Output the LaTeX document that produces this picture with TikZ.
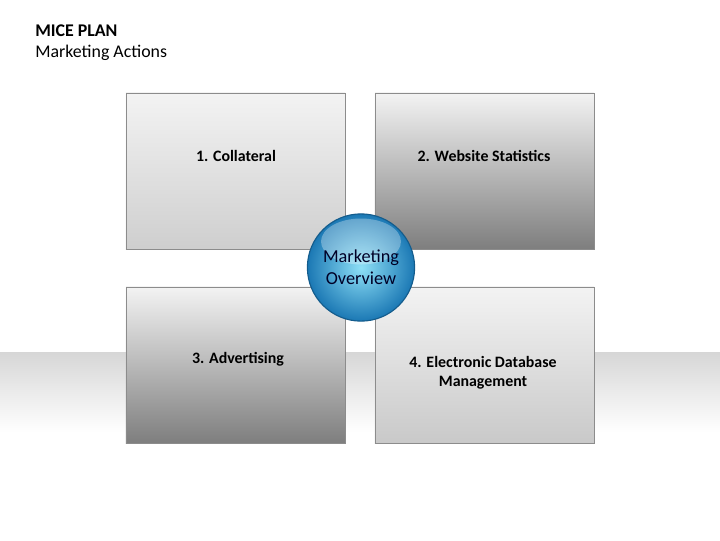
\documentclass[tikz,border=0pt]{standalone}
\usepackage{fontspec}
\setmainfont{Carlito}
\usetikzlibrary{positioning,calc,shadings}
\definecolor{mpframe}{HTML}{8C8C8C}
\definecolor{mptop}{HTML}{F3F3F3}
\definecolor{mpdark}{HTML}{7E7E7E}
\definecolor{mplight}{HTML}{C9C9C9}
\definecolor{mpblue}{HTML}{1B78B4}
\definecolor{mpglow}{HTML}{8EE0F7}
\definecolor{mpedge}{HTML}{145C8C}

\begin{document}
\begin{tikzpicture}[
  x=0.025cm, y=-0.025cm,
  tile/.style={draw=mpframe, line width=0.6pt, top color=mptop,
               minimum width=5.475cm, minimum height=3.9cm, inner sep=0pt},
  lbl/.style={font=\fontsize{11.3}{13.5}\selectfont\bfseries, text=black,
              align=center, inner sep=0pt},
  ttl/.style={font=\fontsize{12.7}{15}\selectfont, anchor=west, inner sep=0pt},
]
  \useasboundingbox (0,0) rectangle (720,540);

  %% Floor band behind the tiles
  \shade[top color=black!16, bottom color=white] (0,352) rectangle (720,432);

  %% Title
  \node[ttl] (title) at (35,31) {\textbf{MICE PLAN}};
  \node[ttl] (sub)   at (35,53) {Marketing Actions};

  %% Four tiles
  \node[tile, bottom color=black!19] (coll) at (235.5,171) {};
  \node[tile, bottom color=mpdark]   (web)  at (484.5,171) {};
  \node[tile, bottom color=mpdark]   (adv)  at (235.5,365) {};
  \node[tile, bottom color=mplight]  (edb)  at (484.5,365) {};

  %% Tile labels
  \node[lbl] (collt) at (236,156) {1. Collateral};
  \node[lbl] (webt)  at (484,156) {2. Website Statistics};
  \node[lbl] (advt)  at (238,359) {3. Advertising};
  \node[lbl] (edbt)  at (483,372.5) {4. Electronic Database\\Management};

  %% Centre ball
  \node[circle, draw=mpedge, line width=0.8pt, minimum size=2.68cm,
        inner color=mpglow, outer color=mpblue] (ball) at (361,267.5) {};
  \fill[white, opacity=0.3] ($(ball.center)+(0,-26)$) ellipse [x radius=40, y radius=23];
  \node[font=\fontsize{13}{16}\selectfont, text=black!85!blue, align=center,
        inner sep=0pt] (ballt) at (361,267) {Marketing\\Overview};

\end{tikzpicture}
\end{document}
